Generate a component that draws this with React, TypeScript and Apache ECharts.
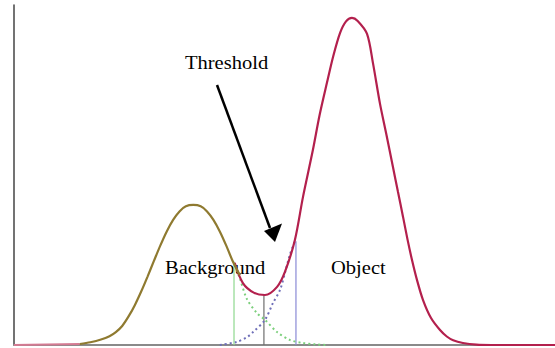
import React, { useEffect, useRef } from "react";
import * as echarts from "echarts";

// x: grey level (0-255), y: relative frequency (0-100)
const backgroundCurve: [number, number][] = [
  [31, 0.3], [36, 0.8], [41, 1.6], [45, 2.6], [48, 3.8], [51, 5.6], [54, 8.4],
  [57, 11.8], [60, 15.8], [63, 20.2], [66, 24.8], [69, 29.3], [72, 33.4],
  [75, 36.8], [78, 39.3], [81, 40.8], [84.5, 41.2], [88, 40.8], [91, 39.3],
  [94, 36.8], [97, 33.4], [100, 29.3], [103, 24.8], [106.5, 20.5],
];
const backgroundTail: [number, number][] = [
  [104, 23.5], [106.5, 19.5], [109.8, 13.5], [114.5, 9.4], [118.3, 7.4],
  [124, 3.8], [130, 1.5], [136, 0.6], [142, 0.2], [147.5, 0],
];
const objectTail: [number, number][] = [
  [97, 0], [105, 0.9], [110, 2.4], [112.7, 3.8], [118.3, 7.4], [122.1, 12.4],
  [125.4, 16.2], [127.7, 21.2], [130, 26.5], [132.4, 30.5],
];
const combinedCurve: [number, number][] = [
  [104, 24.2], [107.9, 18.2], [113, 15.4], [118.3, 14.7], [124, 17.1],
  [127.7, 21.5], [132.4, 30.9], [136.2, 43.5], [140.9, 57.4], [144, 67.5],
  [147.5, 77.1], [150.5, 85], [153.7, 91.8], [156.5, 95.2], [159.3, 96.2],
  [162, 95.3], [166.4, 91.5], [169.2, 82.9], [172.5, 71], [175.5, 62],
  [178.6, 52.4], [181, 45], [183.4, 37.6], [185.5, 31], [187.6, 25],
  [190, 19], [192.8, 13.2], [196.5, 8], [200.8, 4.4], [204, 2.5],
  [207, 1.4], [211.6, 0.6], [218, 0.1], [225, 0], [255, 0],
];
const leftBaseline: [number, number][] = [[0, 0], [31, 0.3]];

// vertical markers: [x, top]
const greenMarker: [number, number] = [103.7, 24.5];
const thresholdMarker: [number, number] = [117.8, 14.7];
const blueMarker: [number, number] = [132.9, 30.5];

const labels = { threshold: "Threshold", background: "Background", object: "Object" };

export default function App() {
  const ref = useRef<HTMLDivElement>(null);
  useEffect(() => {
    const chart = echarts.init(ref.current!, null, { renderer: "svg" });
    const vline = (m: [number, number], color: string) => ({
      type: "line",
      data: [[m[0], 0], [m[0], m[1]]],
      showSymbol: false,
      lineStyle: { color, width: 1.2 },
      z: 1,
    });
    const curve = (data: [number, number][], color: string, width: number, type: any, z: number) => ({
      type: "line",
      data,
      smooth: 0.3,
      showSymbol: false,
      lineStyle: { color, width, type },
      z,
    });
    const font = "18px 'Liberation Serif', serif";
    chart.setOption({
      animation: false,
      backgroundColor: "#ffffff",
      grid: { left: 14, right: 0, top: 5, bottom: 3 },
      xAxis: {
        type: "value",
        min: 0,
        max: 255,
        axisLine: { show: true, lineStyle: { color: "#8a8a8a", width: 2 } },
        axisTick: { show: false },
        axisLabel: { show: false },
        splitLine: { show: false },
      },
      yAxis: {
        type: "value",
        min: 0,
        max: 100,
        axisLine: { show: true, onZero: false, lineStyle: { color: "#444", width: 1.5 } },
        axisTick: { show: false },
        axisLabel: { show: false },
        splitLine: { show: false },
      },
      series: [
        vline(greenMarker, "#8fd88f"),
        vline(thresholdMarker, "#6e6e6e"),
        vline(blueMarker, "#8a8ad6"),
        curve(backgroundTail, "#7ccf7c", 2, [2, 3], 2),
        curve(objectTail, "#6f6fb8", 2, [2, 3], 2),
        { ...curve(leftBaseline, "#d47a92", 2, "solid", 3), smooth: false },
        curve(combinedCurve, "#b3204d", 2.2, "solid", 3),
        curve(backgroundCurve, "#8f7a30", 2.2, "solid", 4),
      ],
      graphic: [
        {
          type: "text",
          x: 185,
          y: 72,
          scaleX: 1.14,
          style: { text: labels.threshold, font, fill: "#000", textVerticalAlign: "bottom" },
        },
        {
          type: "text",
          x: 165,
          y: 277,
          scaleX: 1.14,
          style: { text: labels.background, font, fill: "#000", textVerticalAlign: "bottom" },
        },
        {
          type: "text",
          x: 331,
          y: 277,
          scaleX: 1.14,
          style: { text: labels.object, font, fill: "#000", textVerticalAlign: "bottom" },
        },
        {
          type: "line",
          shape: { x1: 217, y1: 85, x2: 270, y2: 228 },
          style: { stroke: "#000", lineWidth: 2.5 },
        },
        {
          type: "polygon",
          shape: { points: [[264, 231], [282, 223.5], [275, 242]] },
          style: { fill: "#000" },
        },
      ],
    });
    return () => chart.dispose();
  }, []);
  return <div ref={ref} style={{ position: "fixed", left: 0, top: 0, width: 555, height: 348 }} />;
}
